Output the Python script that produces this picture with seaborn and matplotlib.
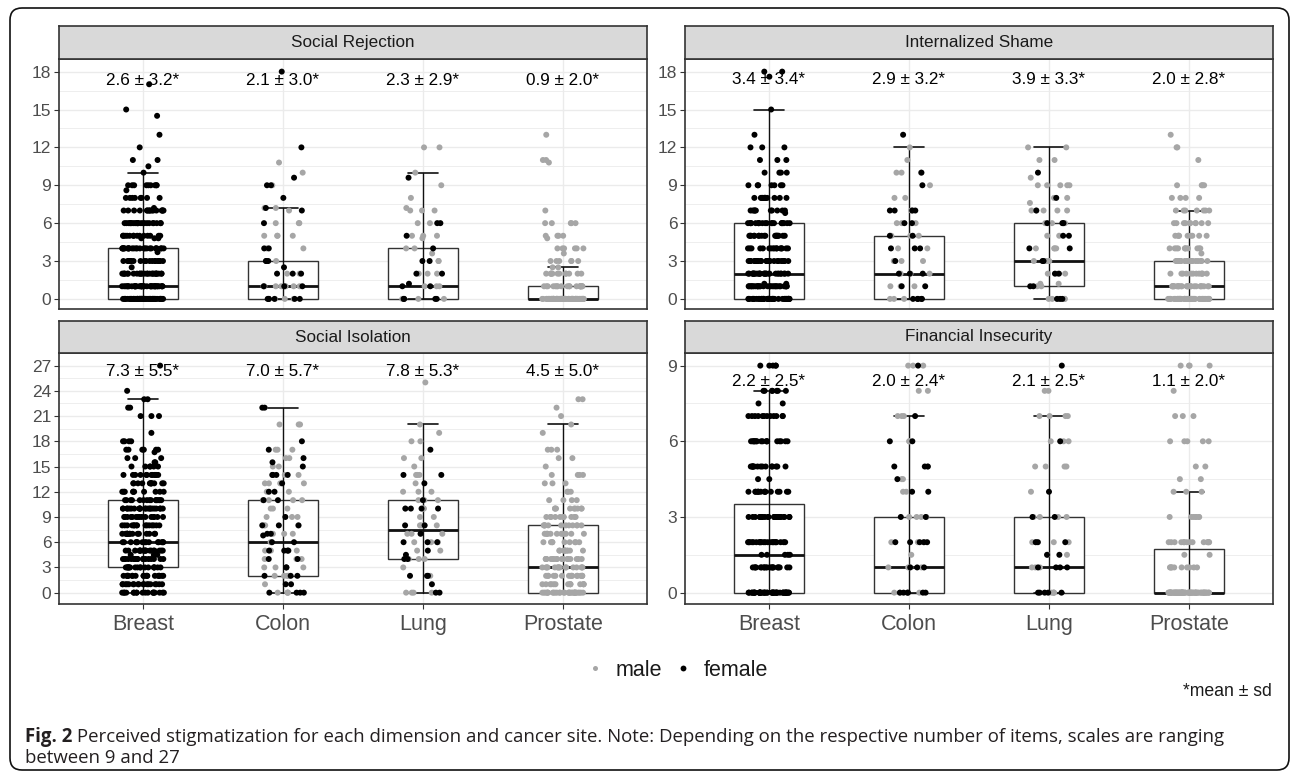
import numpy as np
import pandas as pd
import matplotlib
matplotlib.use("Agg")
import matplotlib.pyplot as plt
import seaborn as sns
from matplotlib.patches import FancyBboxPatch
from matplotlib.lines import Line2D
from matplotlib.ticker import MultipleLocator

# ---------------- data ----------------
SITES = ["Breast", "Colon", "Lung", "Prostate"]
FACETS = ["Social Rejection", "Internalized Shame", "Social Isolation", "Financial Insecurity"]
SEXES = ["male", "female"]

# mean ± sd annotations
SR_LABELS = ["2.6 ± 3.2*", "2.1 ± 3.0*", "2.3 ± 2.9*", "0.9 ± 2.0*"]
IS_LABELS = ["3.4 ± 3.4*", "2.9 ± 3.2*", "3.9 ± 3.3*", "2.0 ± 2.8*"]
SI_LABELS = ["7.3 ± 5.5*", "7.0 ± 5.7*", "7.8 ± 5.3*", "4.5 ± 5.0*"]
FI_LABELS = ["2.2 ± 2.5*", "2.0 ± 2.4*", "2.1 ± 2.5*", "1.1 ± 2.0*"]

# box statistics per site (Breast, Colon, Lung, Prostate)
SR_Q1 = [0, 0, 0, 0]
SR_MED = [1, 1, 1, 0]
SR_Q3 = [4, 3, 4, 1]
SR_LO = [0, 0, 0, 0]
SR_HI = [10, 7.2, 10, 2.5]

IS_Q1 = [0, 0, 1, 0]
IS_MED = [2, 2, 3, 1]
IS_Q3 = [6, 5, 6, 3]
IS_LO = [0, 0, 0, 0]
IS_HI = [15, 12, 12, 7]

SI_Q1 = [3, 2, 4, 0]
SI_MED = [6, 6, 7.5, 3]
SI_Q3 = [11, 11, 11, 8]
SI_LO = [0, 0, 0, 0]
SI_HI = [23, 22, 20, 20]

FI_Q1 = [0, 0, 0, 0]
FI_MED = [1.5, 1, 1, 0]
FI_Q3 = [3.5, 3, 3, 1.75]
FI_LO = [0, 0, 0, 0]
FI_HI = [8, 7, 7, 4]

# individual scores: {score: number of patients}
SR_BREAST_F = {0: 55, 1: 36, 2: 26, 2.5: 1, 3: 18, 3.7: 1, 4: 26, 4.8: 3, 5: 14, 6: 22, 7: 16,
               7.2: 1, 8: 8, 8.6: 1, 9: 9, 10: 1, 10.5: 1, 11: 2, 12: 1, 13: 1, 14.5: 1, 15: 1, 17: 1}
SR_COLON_F = {0: 6, 1: 3, 2: 3, 2.5: 1, 3: 3, 4: 2, 6: 1, 7: 1, 7.2: 1, 8: 1, 9: 2, 9.6: 1, 12: 1, 18: 1}
SR_COLON_M = {0: 3, 1: 8, 2: 2, 3: 1, 4: 2, 5: 4, 6: 3, 7: 1, 7.2: 2, 9: 1, 10: 1, 10.8: 1}
SR_LUNG_F = {0: 4, 1: 2, 1.2: 1, 2: 2, 3: 2, 4: 1, 5: 1, 6: 2, 9.6: 1}
SR_LUNG_M = {0: 4, 1: 3, 2: 3, 3: 2, 3.6: 1, 4: 2, 4.8: 1, 5: 3, 6: 2, 7: 3, 7.2: 1, 8: 1, 9: 1, 10: 1, 12: 2}
SR_PROSTATE_M = {0: 70, 1: 20, 2: 12, 2.5: 2, 3: 6, 3.6: 1, 4: 6, 4.8: 1, 5: 4, 6: 5, 7: 1,
                 10.8: 1, 11: 2, 13: 1}

IS_BREAST_F = {0: 45, 1: 28, 1.2: 2, 2: 28, 3: 24, 4: 16, 5: 18, 6: 20, 6.8: 1, 7: 10, 8: 13, 9: 7,
               10: 4, 11: 3, 12: 3, 13: 1, 15: 1, 17.6: 1, 18: 2}
IS_COLON_F = {0: 5, 1: 2, 2: 3, 3: 1, 4: 3, 5: 2, 6: 2, 7: 4, 9: 1, 10: 1, 13: 1}
IS_COLON_M = {0: 3, 1: 3, 2: 3, 3: 3, 4: 2, 5: 3, 6: 3, 7: 2, 8: 2, 9: 1, 10: 3, 11: 1, 12: 1}
IS_LUNG_F = {0: 3, 1: 2, 2: 2, 3: 2, 4: 2, 5: 2, 6: 3, 7: 1, 8: 1, 10: 1}
IS_LUNG_M = {0: 5, 1: 2, 1.2: 2, 2: 3, 3: 4, 4: 4, 5: 2, 6: 4, 7: 5, 7.6: 1, 8: 2, 9: 5, 9.6: 1,
             11: 2, 12: 2}
IS_PROSTATE_M = {0: 45, 1: 26, 2: 12, 3: 18, 3.6: 1, 4: 11, 5: 9, 6: 10, 7: 7, 8: 4, 9: 4, 11: 1,
                 12: 2, 13: 1}

SI_BREAST_F = {0: 18, 1: 18, 2: 19, 3: 18, 4: 18, 4.5: 3, 5: 19, 6: 15, 7: 15, 8: 15, 9: 15,
               10: 22, 11: 15, 12: 10, 13: 12, 14: 12, 15: 6, 15.5: 2, 16: 3, 16.7: 1, 17: 6,
               18: 4, 19: 1, 21: 3, 22: 2, 23: 2, 24: 1, 27: 1}
SI_COLON_F = {0: 4, 1: 2, 2: 3, 3: 2, 4: 2, 5: 4, 6: 2, 6.8: 1, 7: 2, 8: 3, 9: 1, 11: 2, 12: 2,
              13: 1, 14: 4, 15: 1, 15.5: 1, 16: 1, 17: 1, 18: 1, 22: 2}
SI_COLON_M = {0: 4, 1: 1, 2: 4, 3: 3, 4: 3, 5: 3, 6: 2, 7: 3, 8: 3, 9: 3, 10: 3, 11: 5, 12: 2,
              13: 4, 14: 2, 15: 2, 16: 2, 17: 3, 20: 3}
SI_LUNG_F = {0: 2, 1: 1, 2: 3, 4: 2, 4.5: 1, 5: 1, 6: 3, 7: 1, 8: 2, 10: 4, 11: 1, 13: 1, 14: 2, 17: 1}
SI_LUNG_M = {0: 4, 2: 1, 3: 1, 4: 3, 5: 2, 6: 3, 7: 3, 8: 4, 9: 2, 10: 3, 11: 3, 12: 3, 13: 1,
             14: 3, 15: 1, 16: 2, 18: 2, 19: 1, 20: 1, 25: 1}
SI_PROSTATE_M = {0: 30, 1: 14, 2: 16, 3: 16, 4: 16, 5: 10, 6: 9, 7: 12, 8: 12, 9: 11, 10: 9, 11: 4,
                 12: 3, 13: 3, 14: 4, 15: 1, 16: 2, 17: 3, 19: 1, 20: 1, 21: 1, 22: 1, 23: 2}

FI_BREAST_F = {0: 50, 1: 20, 1.5: 5, 2: 22, 3: 25, 4: 15, 4.5: 2, 5: 15, 6: 17, 7: 12, 7.5: 2,
               8: 7, 9: 5}
FI_COLON_F = {0: 6, 1: 3, 2: 5, 3: 2, 4: 2, 4.5: 1, 5: 3, 6: 2, 7: 1, 9: 1}
FI_COLON_M = {0: 3, 1: 4, 1.5: 1, 2: 3, 3: 4, 4: 2, 4.5: 2, 5: 1, 6: 2, 7: 3, 8: 2, 9: 3}
FI_LUNG_F = {0: 5, 1: 4, 1.5: 2, 2: 3, 3: 2, 4: 1, 6: 1, 9: 1}
FI_LUNG_M = {0: 4, 1: 3, 1.5: 2, 2: 4, 3: 4, 4: 1, 5: 4, 6: 3, 7: 4, 8: 2}
FI_PROSTATE_M = {0: 70, 1: 10, 1.5: 2, 2: 14, 3: 7, 4: 3, 4.5: 2, 5: 2, 6: 5, 7: 3, 8: 1, 9: 4}

SR_TICKS = [0, 3, 6, 9, 12, 15, 18]
IS_TICKS = [0, 3, 6, 9, 12, 15, 18]
SI_TICKS = [0, 3, 6, 9, 12, 15, 18, 21, 24, 27]
FI_TICKS = [0, 3, 6, 9]

CAPTION_BOLD = "Fig. 2"
CAPTION_1 = (" Perceived stigmatization for each dimension and cancer site. Note: Depending on "
             "the respective number of items, scales are ranging")
CAPTION_2 = "between 9 and 27"


# ---------------- helpers ----------------
def long_df(groups):
    rows = []
    for site, sex, counts in groups:
        vals = np.repeat(np.array(list(counts.keys()), dtype=float),
                         np.array(list(counts.values()), dtype=int))
        rows.append(pd.DataFrame({"site": site, "sex": sex, "score": vals}))
    return pd.concat(rows, ignore_index=True)


panels = [
    dict(title=FACETS[0], labels=SR_LABELS, ticks=SR_TICKS, ylim=(-0.8, 19.0), ann_y=17.3,
         box=(SR_Q1, SR_MED, SR_Q3, SR_LO, SR_HI),
         groups=[("Breast", "female", SR_BREAST_F), ("Colon", "male", SR_COLON_M),
                 ("Colon", "female", SR_COLON_F), ("Lung", "male", SR_LUNG_M),
                 ("Lung", "female", SR_LUNG_F), ("Prostate", "male", SR_PROSTATE_M)]),
    dict(title=FACETS[1], labels=IS_LABELS, ticks=IS_TICKS, ylim=(-0.8, 19.0), ann_y=17.35,
         box=(IS_Q1, IS_MED, IS_Q3, IS_LO, IS_HI),
         groups=[("Breast", "female", IS_BREAST_F), ("Colon", "male", IS_COLON_M),
                 ("Colon", "female", IS_COLON_F), ("Lung", "male", IS_LUNG_M),
                 ("Lung", "female", IS_LUNG_F), ("Prostate", "male", IS_PROSTATE_M)]),
    dict(title=FACETS[2], labels=SI_LABELS, ticks=SI_TICKS, ylim=(-1.35, 28.5), ann_y=26.3,
         box=(SI_Q1, SI_MED, SI_Q3, SI_LO, SI_HI),
         groups=[("Breast", "female", SI_BREAST_F), ("Colon", "male", SI_COLON_M),
                 ("Colon", "female", SI_COLON_F), ("Lung", "male", SI_LUNG_M),
                 ("Lung", "female", SI_LUNG_F), ("Prostate", "male", SI_PROSTATE_M)]),
    dict(title=FACETS[3], labels=FI_LABELS, ticks=FI_TICKS, ylim=(-0.45, 9.5), ann_y=8.37,
         box=(FI_Q1, FI_MED, FI_Q3, FI_LO, FI_HI),
         groups=[("Breast", "female", FI_BREAST_F), ("Colon", "male", FI_COLON_M),
                 ("Colon", "female", FI_COLON_F), ("Lung", "male", FI_LUNG_M),
                 ("Lung", "female", FI_LUNG_F), ("Prostate", "male", FI_PROSTATE_M)]),
]

# ---------------- style ----------------
sns.set_style("white")
plt.rcParams["font.family"] = ["Liberation Sans", "DejaVu Sans"]

W, H = 1292, 772
fig = plt.figure(figsize=(W / 100, H / 100), dpi=100)
fig.patch.set_facecolor("white")


def frac(x0, y0, x1, y1):
    return [x0 / W, 1 - y1 / H, (x1 - x0) / W, (y1 - y0) / H]


# pixel layout of panels: (x0, x1, strip_top, plot_top, plot_bottom)
LAYOUT = [(59, 647, 26, 59, 309), (685, 1273, 26, 59, 309),
          (59, 647, 321, 353, 604), (685, 1273, 321, 353, 604)]

PALETTE = {"male": "#a6a6a6", "female": "#000000"}
BORDER = "#333333"
GRID = "#ebebeb"

np.random.seed(7)
for k, (p, (x0, x1, st, pt, pb)) in enumerate(zip(panels, LAYOUT)):
    ax = fig.add_axes(frac(x0, pt, x1, pb))
    df = long_df(p["groups"])
    q1, med, q3, lo, hi = p["box"]
    stats = [dict(q1=q1[i], med=med[i], q3=q3[i], whislo=lo[i], whishi=hi[i], fliers=[])
             for i in range(len(SITES))]
    ax.bxp(stats, positions=range(len(SITES)), widths=0.5, showfliers=False,
           patch_artist=True, capwidths=0.22,
           boxprops=dict(facecolor="white", edgecolor=BORDER, linewidth=1.0),
           medianprops=dict(color="#111111", linewidth=2.0),
           whiskerprops=dict(color="#111111", linewidth=1.0),
           capprops=dict(color="#111111", linewidth=1.2),
           zorder=2)
    ax.vlines(range(len(SITES)), q1, q3, color="#111111", linewidth=1.0, zorder=2.1)
    sns.stripplot(data=df, x="site", y="score", hue="sex", order=SITES, hue_order=SEXES,
                  palette=PALETTE, jitter=0.15, size=4.3, linewidth=0, dodge=False,
                  legend=False, ax=ax, zorder=3)
    for i, lab in enumerate(p["labels"]):
        ax.text(i, p["ann_y"], lab, ha="center", va="center", fontsize=12.3,
                color="#000000", zorder=4)

    ax.set_xticks(range(len(SITES)))
    ax.set_xticklabels(SITES)
    ax.set_xlim(-0.6, 3.6)
    ax.set_ylim(*p["ylim"])
    ax.set_yticks(p["ticks"])
    ax.set_yticklabels([str(t) for t in p["ticks"]])
    ax.yaxis.set_minor_locator(MultipleLocator(1.5))
    ax.set_xlabel("")
    ax.set_ylabel("")
    ax.set_axisbelow(True)
    ax.grid(False)
    ax.yaxis.grid(True, which="major", color=GRID, linewidth=1.0)
    ax.yaxis.grid(True, which="minor", color=GRID, linewidth=0.6)
    ax.xaxis.grid(True, which="major", color=GRID, linewidth=1.0)
    for s in ax.spines.values():
        s.set_color(BORDER)
        s.set_linewidth(1.2)
    ax.tick_params(axis="y", which="major", length=3.5, width=0.8, color=BORDER,
                   labelsize=12.5, labelcolor="#4d4d4d", pad=2, left=True)
    ax.tick_params(axis="y", which="minor", length=0)
    if k >= 2:
        ax.tick_params(axis="x", length=3.5, width=0.8, color=BORDER, labelsize=15.5,
                       labelcolor="#4d4d4d", pad=3.5, bottom=True)
    else:
        ax.tick_params(axis="x", length=0, labelbottom=False)

    sax = fig.add_axes(frac(x0, st, x1, pt))
    sax.set_facecolor("#d9d9d9")
    sax.set_xticks([])
    sax.set_yticks([])
    for s in sax.spines.values():
        s.set_color(BORDER)
        s.set_linewidth(1.2)
    sax.text(0.5, 0.5, p["title"], ha="center", va="center", fontsize=12.3,
             color="#1a1a1a", transform=sax.transAxes)

# legend
handles = [Line2D([], [], marker="o", ls="", color=PALETTE["male"], markersize=3.6, mew=0),
           Line2D([], [], marker="o", ls="", color=PALETTE["female"], markersize=4.2, mew=0)]
fig.legend(handles, SEXES, loc="center", bbox_to_anchor=(676 / W, 1 - 670 / H), ncol=2,
           frameon=False, fontsize=15.5, handlelength=1.0, handletextpad=0.45,
           columnspacing=0.5, labelcolor="#1a1a1a")

fig.text(1272 / W, 1 - 692 / H, "*mean ± sd", ha="right", va="center", fontsize=12.7,
         color="#1a1a1a")

# caption
cap_font = ["Open Sans", "DejaVu Sans"]
CAP_SIZE = 13.4
t1 = fig.text(25 / W, 1 - 737 / H, CAPTION_BOLD, ha="left", va="center", fontsize=CAP_SIZE,
              fontweight="bold", family=cap_font, color="#231f20")
renderer = fig.canvas.get_renderer()
bb = t1.get_window_extent(renderer)
fig.text(bb.x1 / W, 1 - 737 / H, CAPTION_1, ha="left", va="center", fontsize=CAP_SIZE,
         family=cap_font, color="#231f20")
fig.text(25 / W, 1 - 758 / H, CAPTION_2, ha="left", va="center", fontsize=CAP_SIZE,
         family=cap_font, color="#231f20")

# rounded outer frame
frame = FancyBboxPatch((10, 2), 1279, 762, boxstyle="round,pad=0,rounding_size=12",
                       transform=None, fill=False, edgecolor="#111111", linewidth=1.2)
fig.patches.append(frame)

fig.savefig("out.png", dpi=100)
